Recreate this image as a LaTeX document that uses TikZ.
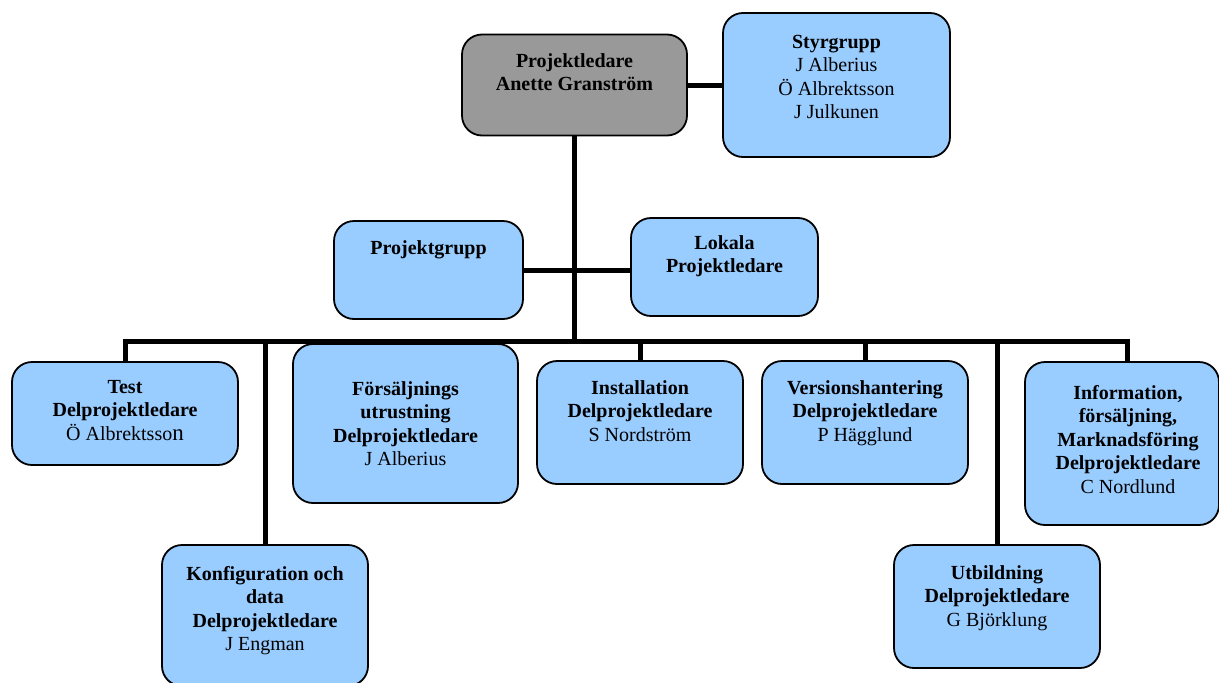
\documentclass[tikz,border=0pt]{standalone}
\usepackage{fontspec}
\setmainfont{Liberation Serif}
\usetikzlibrary{backgrounds}
\definecolor{boxblue}{HTML}{99CCFF}
\definecolor{boxgray}{HTML}{999999}
\begin{document}
\begin{tikzpicture}[x=1pt,y=-1pt,
  box/.style={draw=black, line width=1.8pt, rounded corners=20pt, fill=boxblue, inner sep=0pt},
  txt/.style={anchor=north, align=center, inner sep=0pt, font=\fontsize{20}{23.5}\selectfont, text=black},
  conn/.style={line width=5pt, line join=miter}]
\useasboundingbox (0,0) rectangle (1219,683);

% boxes
\node[box, fill=boxgray, minimum width=225pt, minimum height=101pt] (pl) at (574.5,85) {};
\node[box, minimum width=227pt, minimum height=144pt] (styr) at (836.5,85) {};
\node[box, minimum width=189pt, minimum height=98pt] (pg) at (428.5,270) {};
\node[box, minimum width=187pt, minimum height=98pt] (lok) at (724.5,267) {};
\node[box, minimum width=226pt, minimum height=103pt] (test) at (125,413.5) {};
\node[box, minimum width=225pt, minimum height=159pt] (fors) at (405.5,423.5) {};
\node[box, minimum width=206pt, minimum height=123pt] (inst) at (640,422.5) {};
\node[box, minimum width=206pt, minimum height=123pt] (vers) at (865,422.5) {};
\node[box, minimum width=194pt, minimum height=163pt] (info) at (1122,443.5) {};
\node[box, minimum width=206pt, minimum height=141pt] (konf) at (265,615.5) {};
\node[box, minimum width=206pt, minimum height=123pt] (utb) at (997,606.5) {};

% texts
\node[txt] (pl-t) at (574.5,53) {\textbf{Projektledare}\\\textbf{Anette Granström}};
\node[txt] (styr-t) at (836.5,35) {\textbf{Styrgrupp}\\J Alberius\\Ö Albrektsson\\J Julkunen};
\node[txt] (pg-t) at (428.5,240) {\textbf{Projektgrupp}};
\node[txt] (lok-t) at (724.5,235) {\textbf{Lokala}\\\textbf{Projektledare}};
\node[txt] (test-t) at (125,380) {\textbf{Test}\\\textbf{Delprojektledare}\\Ö Albrektsso{\fontsize{23}{23.5}\selectfont n}};
\node[txt] (fors-t) at (405.5,381) {\textbf{Försäljnings}\\\textbf{utrustning}\\\textbf{Delprojektledare}\\J Alberius};
\node[txt] (inst-t) at (640,380) {\textbf{Installation}\\\textbf{Delprojektledare}\\S Nordström};
\node[txt] (vers-t) at (865,380) {\textbf{Versionshantering}\\\textbf{Delprojektledare}\\P Hägglund};
\node[txt] (info-t) at (1128,385) {\textbf{Information,}\\\textbf{försäljning,}\\\textbf{Marknadsföring}\\\textbf{Delprojektledare}\\C Nordlund};
\node[txt] (konf-t) at (265,566) {\textbf{Konfiguration och}\\\textbf{data}\\\textbf{Delprojektledare}\\J Engman};
\node[txt] (utb-t) at (997,565) {\textbf{Utbildning}\\\textbf{Delprojektledare}\\G Björklung};

% connectors
\coordinate (bus) at (575,341);
\coordinate (idrop) at (1127,0);
\begin{scope}[on background layer]
\draw[conn] (pl.east) -- (pl.east -| styr.west);
\draw[conn] (pl.south) -- (pl.south |- bus);
\draw[conn] (pg.east) -- (pg.east -| lok.west);
\draw[conn] (test.north) -- (test.north |- bus) -- (idrop |- bus) -- (idrop |- info.north);
\draw[conn] (konf.north) -- (konf.north |- bus);
\draw[conn] (fors.north) -- (fors.north |- bus);
\draw[conn] (inst.north) -- (inst.north |- bus);
\draw[conn] (vers.north) -- (vers.north |- bus);
\draw[conn] (utb.north) -- (utb.north |- bus);
\end{scope}
\end{tikzpicture}
\end{document}
